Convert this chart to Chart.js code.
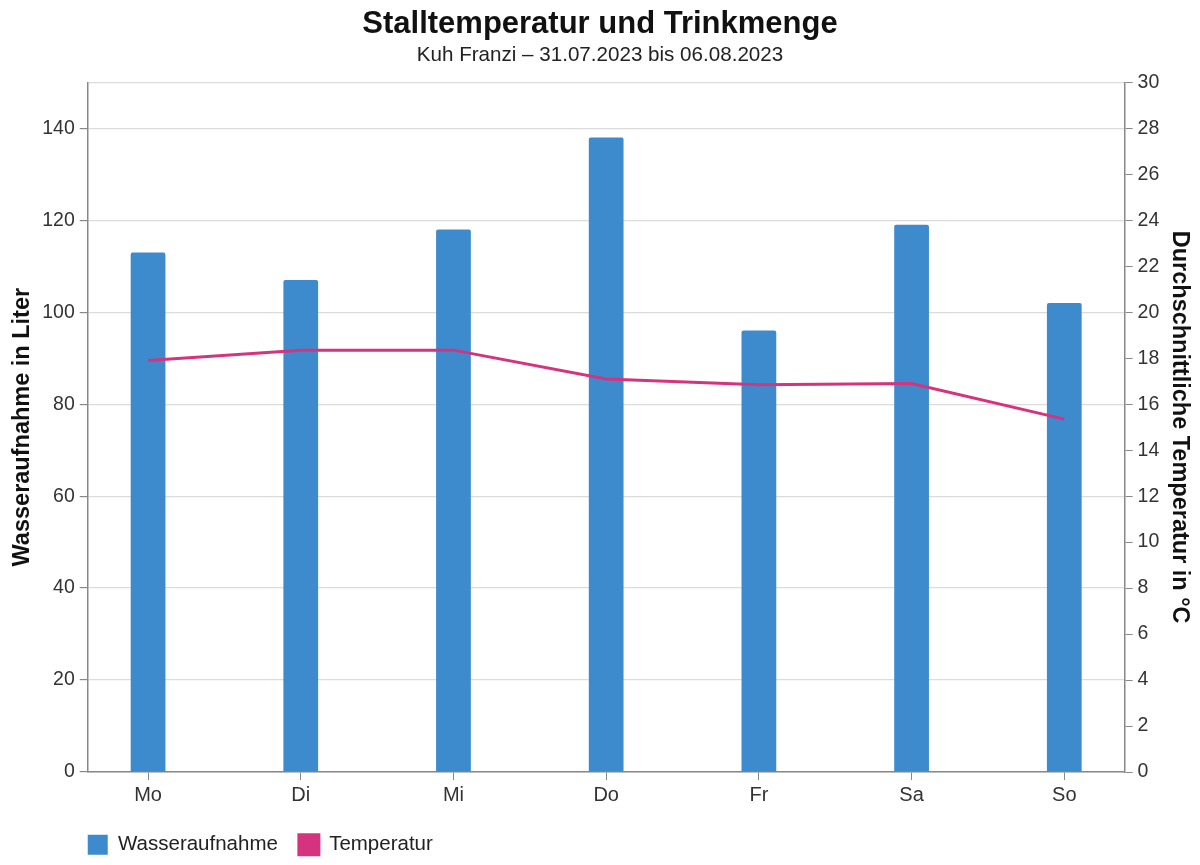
<!DOCTYPE html>
<html>
<head>
<meta charset="utf-8">
<script src="https://cdn.jsdelivr.net/npm/chart.js@4.4.0/dist/chart.umd.min.js"></script>
<style>
  html, body { margin: 0; padding: 0; background: #fff; }
  #wrap { width: 1200px; height: 865px; }
</style>
</head>
<body>
<div id="wrap"><canvas id="chart" width="1200" height="865"></canvas></div>
<script>
const days = ['Mo', 'Di', 'Mi', 'Do', 'Fr', 'Sa', 'So'];
const water = [113, 107, 118, 138, 96, 119, 102];
const temperature = [17.9, 18.35, 18.35, 17.1, 16.85, 16.9, 15.35];

const FONT = "'Liberation Sans', Arial, sans-serif";
Chart.defaults.font.family = FONT;
Chart.defaults.color = '#333';

// legend sits under the plot area, not at the canvas edge
const legendToPlot = {
    id: 'legendToPlot',
    afterLayout(chart) {
        const lg = chart.legend;
        const dx = chart.chartArea.left - lg.left - lg.options.labels.padding;
        lg.left += dx;
        lg.right += dx;
    },
};

const ctx = document.getElementById('chart').getContext('2d');
new Chart(ctx, {
    type: 'bar',
    data: {
        datasets: [
            {
                label: 'Wasseraufnahme',
                data: days.map((d, i) => ({ x: i, y: water[i] })),
                yAxisID: 'yWater',
                backgroundColor: '#3d8bcd',
                borderRadius: 2,
                borderSkipped: 'bottom',
                barPercentage: 0.91,
                categoryPercentage: 0.25,
                order: 1,
            },
            {
                type: 'line',
                label: 'Temperatur',
                data: days.map((d, i) => ({ x: i, y: temperature[i] })),
                yAxisID: 'yTemp',
                borderColor: '#d6337f',
                backgroundColor: '#d6337f',
                borderWidth: 3,
                pointRadius: 0,
                tension: 0,
                fill: false,
                order: 0,
            },
        ],
    },
    options: {
        responsive: false,
        animation: false,
        layout: {
            padding: { top: 0, left: 0, right: 0, bottom: 0 },
        },
        scales: {
            x: {
                type: 'linear',
                offset: false,
                min: -0.395,
                max: 6.395,
                afterBuildTicks: (s) => {
                    s.ticks = days.map((d, i) => ({ value: i }));
                },
                afterFit: (s) => {
                    s.height += 3.5;
                },
                grid: { offset: false, drawOnChartArea: false, tickLength: 8, tickColor: '#888' },
                border: { display: true, color: '#888', width: 1.5 },
                ticks: {
                    font: { size: 20 },
                    color: '#333',
                    padding: 3,
                    callback: (v) => days[v],
                },
            },
            yWater: {
                position: 'left',
                min: 0,
                max: 150,
                ticks: {
                    stepSize: 20,
                    font: { size: 19.5 },
                    color: '#333',
                    padding: 5,
                    callback: (v) => (v === 150 ? '' : v),
                },
                grid: {
                    color: '#dcdcdc',
                    lineWidth: 1.2,
                    tickLength: 8,
                    tickColor: (c) => (c.tick && c.tick.value === 150 ? 'rgba(0,0,0,0)' : '#888'),
                },
                border: { display: true, color: '#888', width: 1.5 },
                title: {
                    display: true,
                    text: 'Wasseraufnahme in Liter',
                    font: { size: 23.5, weight: 'bold' },
                    color: '#111',
                    padding: { top: 8, bottom: 1 },
                },
            },
            yTemp: {
                position: 'right',
                min: 0,
                max: 30,
                ticks: { stepSize: 2, font: { size: 19.5 }, color: '#333', padding: 5 },
                grid: { drawOnChartArea: false, tickLength: 8, tickColor: '#888' },
                border: { display: true, color: '#888', width: 1.5 },
                title: {
                    display: true,
                    text: 'Durchschnittliche Temperatur in °C',
                    font: { size: 23.5, weight: 'bold' },
                    color: '#111',
                    padding: { top: 6, bottom: 1.5 },
                },
            },
        },
        plugins: {
            title: {
                display: true,
                text: 'Stalltemperatur und Trinkmenge',
                font: { size: 31, weight: 'bold' },
                color: '#111',
                padding: { top: 6, bottom: 0 },
            },
            subtitle: {
                display: true,
                text: 'Kuh Franzi – 31.07.2023 bis 06.08.2023',
                font: { size: 20.6 },
                color: '#222',
                padding: { bottom: 14.4 },
            },
            legend: {
                position: 'bottom',
                align: 'start',
                labels: {
                    boxWidth: 20,
                    boxHeight: 20,
                    font: { size: 20.5, lineHeight: 1 },
                    color: '#222',
                    padding: 21,
                    sort: (a, b) => a.datasetIndex - b.datasetIndex,
                },
            },
            tooltip: { enabled: false },
        },
    },
    plugins: [legendToPlot],
});
</script>
</body>
</html>
